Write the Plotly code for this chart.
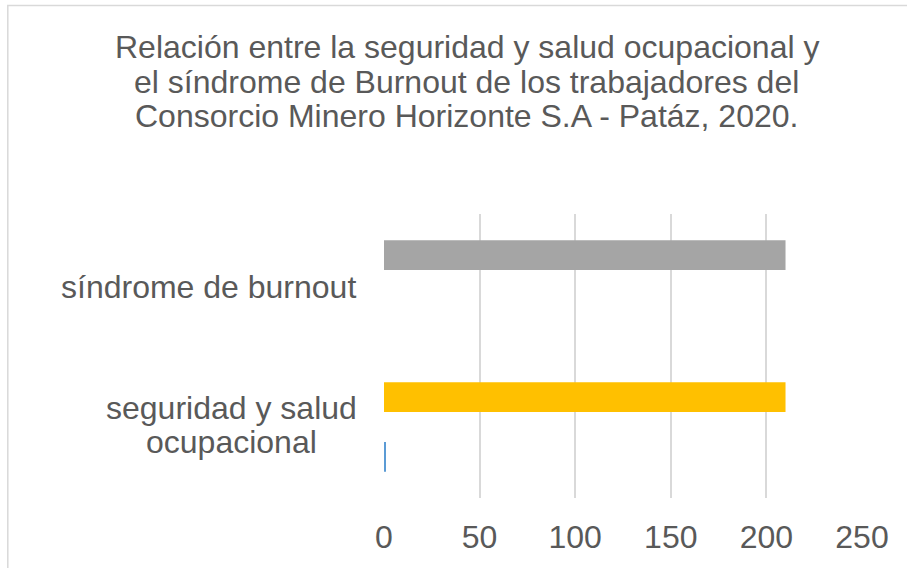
import plotly.graph_objects as go

categories = ["seguridad y salud ocupacional", "síndrome de burnout"]
series_1 = [1, 0]
series_2 = [0, 0]
series_3 = [210, 210]
series_3_colors = ["#FFC000", "#A5A5A5"]
x_ticks = [0, 50, 100, 150, 200, 250]
title_lines = ["Relación entre la seguridad y salud ocupacional y",
               "el síndrome de Burnout de los trabajadores del",
               "Consorcio Minero Horizonte S.A - Patáz, 2020."]

FONT = "Liberation Sans, Arial, sans-serif"
TXT = "#595959"
FS = 32

fig = go.Figure()
fig.add_trace(go.Bar(y=categories, x=series_1, orientation="h",
                     marker=dict(color="#5B9BD5", line_width=0), showlegend=False))
fig.add_trace(go.Bar(y=categories, x=series_2, orientation="h",
                     marker=dict(color="#ED7D31", line_width=0), showlegend=False))
fig.add_trace(go.Bar(y=categories, x=series_3, orientation="h",
                     marker=dict(color=series_3_colors, line_width=0), showlegend=False))

L, R, T, B = 383.5, 862.5, 214, 498
W, H = 907, 568


def px(xs):
    return (xs - L) / (R - L)


def py(ys):
    return (B - ys) / (B - T)


# title lines
for line, yc in zip(title_lines, [47, 82, 116]):
    fig.add_annotation(x=px(466.5), y=py(yc), xref="paper", yref="paper",
                       text=line, showarrow=False, xanchor="center", yanchor="middle",
                       font=dict(family=FONT, size=FS, color=TXT))

# category labels
fig.add_annotation(x=px(357), y=categories[1], xref="paper", yref="y",
                   text="síndrome de burnout", showarrow=False, xanchor="right",
                   yshift=-2, font=dict(family=FONT, size=FS, color=TXT))
fig.add_annotation(x=px(231), y=categories[0], xref="paper", yref="y",
                   text="seguridad y salud", showarrow=False, xanchor="center",
                   yshift=19.5, font=dict(family=FONT, size=FS, color=TXT))
fig.add_annotation(x=px(231), y=categories[0], xref="paper", yref="y",
                   text="ocupacional", showarrow=False, xanchor="center",
                   yshift=-15, font=dict(family=FONT, size=FS, color=TXT))

# chart-area border (only left and top edges fall inside the picture)
fig.add_shape(type="rect", xref="paper", yref="paper",
              x0=px(6.5), x1=2.0, y0=-1, y1=py(5.5),
              line=dict(color="#D9D9D9", width=1.5), fillcolor="rgba(0,0,0,0)",
              layer="below")

fig.update_layout(
    width=W, height=H,
    margin=dict(l=L, r=W - R, t=T, b=H - B, pad=0),
    paper_bgcolor="white", plot_bgcolor="white",
    barmode="group", bargap=0.37, bargroupgap=0,
    xaxis=dict(range=[0, 250], tickvals=x_ticks, showgrid=True, gridcolor="#D9D9D9",
               gridwidth=1.5, zeroline=False, showline=False, ticks="",
               tickfont=dict(family=FONT, size=FS, color=TXT), ticklabelstandoff=17),
    yaxis=dict(showticklabels=False, showgrid=False, zeroline=False, showline=False,
               ticks="", categoryorder="array", categoryarray=categories),
)

fig.write_html("out.html",
               config={"displayModeBar": False},
               post_script="document.body.style.margin='0';"
                           "document.body.style.overflow='hidden';")
